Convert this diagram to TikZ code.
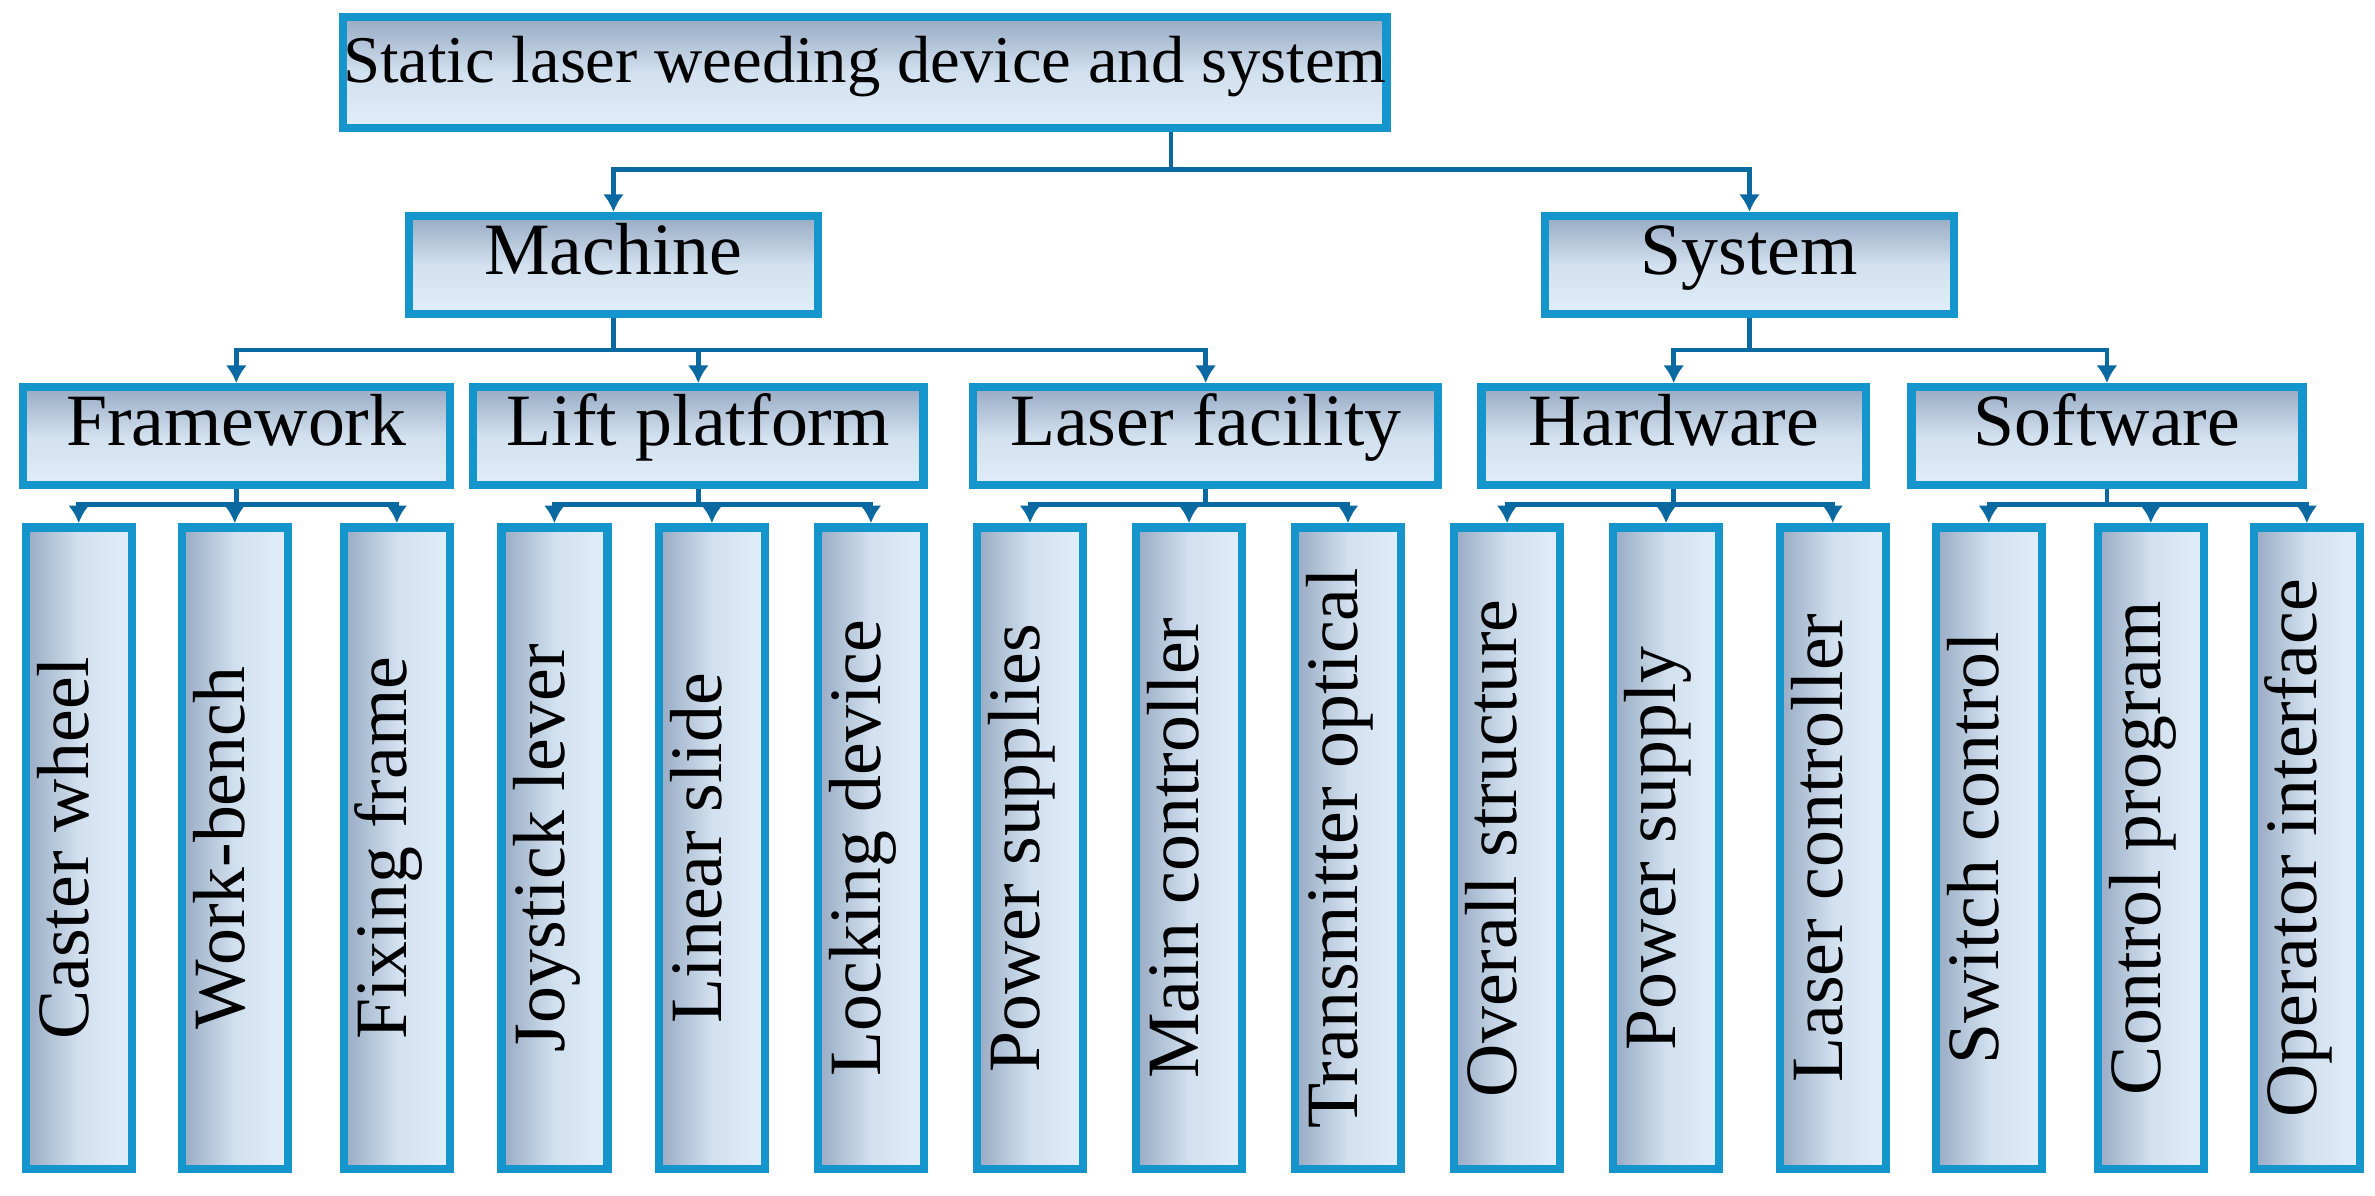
\documentclass[tikz,border=0pt]{standalone}
\usepackage{fontspec}
\setmainfont{Liberation Serif}
\usetikzlibrary{arrows.meta}
\definecolor{BoxEdge}{RGB}{20,150,205}
\definecolor{BoxDark}{RGB}{150,170,195}
\definecolor{BoxLight}{RGB}{225,238,250}
\definecolor{LinkBlue}{RGB}{10,105,160}
\tikzset{
  box/.style={draw=BoxEdge, line width=2.4pt, top color=BoxDark, bottom color=BoxLight,
    middle color=BoxLight!80!BoxDark, inner sep=0pt, text height=1.6ex, text depth=.4ex,
    font=\fontsize{21}{24}\selectfont},
  leaf/.style={box, rotate=90, minimum width=6.42cm, minimum height=1.06cm,
    left color=BoxDark, right color=BoxLight, middle color=BoxLight!80!BoxDark},
  arr/.style={draw=LinkBlue, line width=1.3pt, -{Latex[length=5pt,width=6pt]}},
}
\begin{document}
\begin{tikzpicture}[x=0.01515cm, y=-0.01515cm]
  \useasboundingbox (0,0) rectangle (1568,789);

  % --- root and first level ---
  \node[box, minimum width=6.70cm, minimum height=1.11cm, font=\fontsize{19}{22}\selectfont]
    (root) at (571,48) {Static laser weeding device and system};
  \node[box, minimum width=4.09cm, minimum height=0.98cm] (mach) at (405,175) {Machine};
  \node[box, minimum width=4.09cm, minimum height=0.98cm] (sys) at (1155,175) {System};

  % --- second level ---
  \node[box, minimum width=4.27cm, minimum height=0.98cm] (frame) at (156,288) {Framework};
  \node[box, minimum width=4.51cm, minimum height=0.98cm] (lift) at (461,288) {Lift platform};
  \node[box, minimum width=4.65cm, minimum height=0.98cm] (laser) at (796,288) {Laser facility};
  \node[box, minimum width=3.85cm, minimum height=0.98cm] (hard) at (1105,288) {Hardware};
  \node[box, minimum width=3.91cm, minimum height=0.98cm] (soft) at (1391,288) {Software};

  % --- leaves ---
  \foreach \name/\x/\txt in {c1/52/Caster wheel, c2/155/Work-bench, c3/262/Fixing frame,
      c4/366/Joystick lever, c5/470/Linear slide, c6/575/Locking device,
      c7/680/Power supplies, c8/785/Main controller, c9/890/Transmitter optical,
      c10/995/Overall structure, c11/1100/Power supply, c12/1210/Laser controller,
      c13/1313/Switch control, c14/1420/Control program, c15/1523/Operator interface}
    \node[leaf] (\name) at (\x,560) {\txt};

  % --- connectors ---
  \coordinate (j0) at (773,112);
  \draw[draw=LinkBlue, line width=1.3pt] (root.south -| j0) -- (j0);
  \draw[arr] (j0) -| (mach);
  \draw[arr] (j0) -| (sys);

  \draw[arr] (mach.south) -- ++(0,21) -| (frame);
  \draw[arr] (mach.south) -- ++(0,21) -| (lift);
  \draw[arr] (mach.south) -- ++(0,21) -| (laser);
  \draw[arr] (sys.south) -- ++(0,21) -| (hard);
  \draw[arr] (sys.south) -- ++(0,21) -| (soft);

  \foreach \p/\a/\b/\c in {frame/c1/c2/c3, lift/c4/c5/c6, laser/c7/c8/c9,
      hard/c10/c11/c12, soft/c13/c14/c15} {
    \draw[arr] (\p.south) -- ++(0,10) -| (\a.east);
    \draw[arr] (\p.south) -- ++(0,10) -| (\b.east);
    \draw[arr] (\p.south) -- ++(0,10) -| (\c.east);
  }
\end{tikzpicture}
\end{document}
